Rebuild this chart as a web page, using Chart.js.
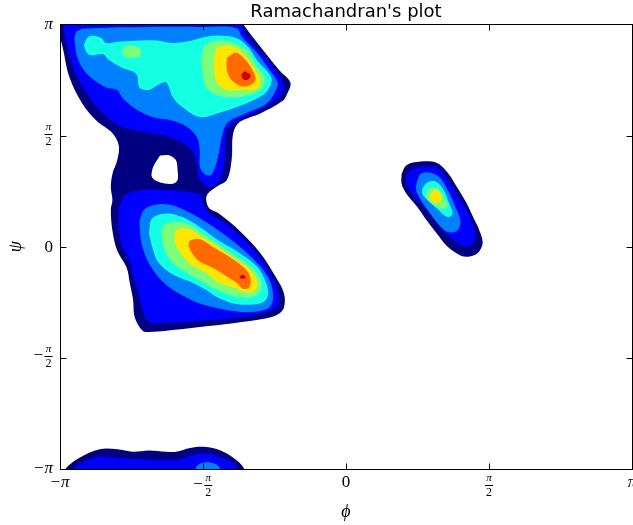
<!DOCTYPE html>
<html lang="en">

<head>
    <meta charset="UTF-8">
    <title>Ramachandran's plot</title>
    <style>
        body { margin: 0; background: #fff; }
        #wrap { width: 633px; height: 525px; }
    </style>
</head>

<body>
    <div id="wrap">
        <canvas id="grafico"></canvas>
    </div>

    <script src="https://cdn.jsdelivr.net/npm/chart.js"></script>
    <script>
        // contour outlines as [phi, psi] in degrees, outermost level first
        const betaL1 = [[-182, 184], [-66, 184], [-64, 179], [-52, 159], [-42, 143], [-35, 133], [-37, 124], [-40, 118], [-54, 108], [-67, 101], [-71, 92], [-72, 70], [-75, 54], [-81, 49], [-87, 43], [-88, 38], [-86, 31], [-80, 27], [-67, 13], [-54, -5], [-44, -25], [-39, -38], [-39, -49], [-42, -54], [-50, -58], [-71, -62], [-92, -65], [-113, -68], [-124, -69], [-128, -68], [-133, -57], [-134, -43], [-136, -30], [-138, -17], [-144, -3], [-147, 13], [-148, 30], [-147, 38], [-148, 48], [-147, 59], [-144, 70], [-143, 82], [-147, 92], [-157, 102], [-166, 116], [-174, 137], [-179, 165], [-182, 175]]
        const betaHole = [[-117, 74], [-111, 74], [-107, 70], [-106, 62], [-106, 54], [-109, 51], [-117, 52], [-122, 56], [-122, 62], [-120, 68]]
        const betaL2 = [[-178, 184], [-178, 179], [-176, 165], [-171, 143], [-163, 124], [-153, 108], [-143, 98], [-128, 93], [-111, 89], [-103, 84], [-97, 78], [-94, 68], [-93, 57], [-90, 51], [-86, 49], [-81, 51], [-78, 58], [-76, 76], [-75, 94], [-69, 102], [-57, 109], [-46, 117], [-40, 125], [-39, 131], [-43, 141], [-52, 155], [-63, 172], [-68, 184]]
        const betaL3 = [[-171, 169], [-169, 175], [-161, 177], [-124, 178], [-92, 178], [-69, 177], [-65, 169], [-56, 157], [-48, 143], [-43, 133], [-44, 127], [-50, 116], [-63, 108], [-74, 101], [-78, 90], [-80, 76], [-82, 66], [-85, 58], [-89, 59], [-92, 65], [-92, 78], [-94, 89], [-100, 97], [-109, 102], [-122, 105], [-134, 113], [-141, 121], [-144, 127], [-151, 129], [-163, 140], [-169, 153]]
        const betaL4 = [[-165, 163], [-163, 169], [-160, 171], [-154, 169], [-151, 165], [-143, 166], [-130, 167], [-119, 167], [-109, 165], [-97, 167], [-88, 170], [-80, 171], [-69, 169], [-61, 161], [-56, 151], [-47, 137], [-49, 127], [-56, 120], [-69, 113], [-81, 108], [-92, 105], [-103, 113], [-109, 121], [-113, 133], [-117, 132], [-124, 127], [-130, 129], [-132, 140], [-141, 145], [-149, 151], [-153, 156], [-160, 155], [-163, 157]]
        const betaL5 = [[-89, 163], [-81, 167], [-73, 166], [-62, 159], [-57, 148], [-51, 137], [-53, 128], [-61, 123], [-71, 121], [-81, 123], [-88, 129], [-90, 140], [-91, 153]]
        const betaL5b = [[-141, 158], [-139, 162], [-135, 163], [-130, 161], [-129, 158], [-130, 154], [-135, 153], [-139, 154]]
        const betaL6 = [[-81, 162], [-73, 163], [-65, 157], [-58, 145], [-54, 135], [-56, 128], [-65, 127], [-75, 127], [-81, 132], [-83, 143], [-83, 153]]
        const betaL7 = [[-75, 153], [-69, 157], [-63, 151], [-58, 141], [-57, 135], [-60, 131], [-66, 130], [-72, 135], [-75, 143]]
        const betaL8 = [[-66, 139], [-64, 142], [-62, 141], [-60, 139], [-61, 136], [-63, 135], [-65, 136]]

        const alphaL2 = [[-138, 43], [-130, 46], [-111, 46], [-97, 44], [-92, 42], [-90, 35], [-85, 26], [-78, 21], [-68, 11], [-57, -4], [-48, -21], [-43, -35], [-42, -46], [-46, -51], [-53, -54], [-71, -58], [-92, -60], [-114, -62], [-122, -62], [-126, -58], [-129, -47], [-131, -35], [-134, -23], [-136, -12], [-141, 1], [-143, 13], [-143, 30], [-141, 39]]
        const alphaL3 = [[-130, 21], [-127, 30], [-120, 34], [-111, 34], [-102, 30], [-92, 23], [-80, 13], [-64, -3], [-52, -19], [-47, -31], [-46, -43], [-49, -50], [-61, -53], [-76, -51], [-92, -46], [-102, -40], [-111, -33], [-119, -23], [-125, -11], [-129, 5]]
        const alphaL4 = [[-124, 11], [-122, 23], [-113, 27], [-103, 24], [-92, 16], [-80, 5], [-67, -5], [-56, -16], [-51, -27], [-49, -38], [-52, -45], [-61, -47], [-71, -46], [-81, -41], [-88, -35], [-97, -29], [-105, -25], [-113, -19], [-119, -11], [-122, 0]]
        const alphaL5 = [[-116, 8], [-115, 17], [-109, 20], [-100, 19], [-90, 11], [-78, 0], [-65, -11], [-56, -21], [-53, -33], [-56, -39], [-65, -41], [-75, -38], [-84, -33], [-92, -27], [-100, -21], [-109, -13], [-114, -3]]
        const alphaL6 = [[-108, 3], [-107, 13], [-100, 15], [-92, 9], [-82, 1], [-71, -9], [-62, -17], [-56, -27], [-57, -35], [-62, -37], [-71, -33], [-80, -29], [-88, -21], [-97, -15], [-103, -7]]
        const alphaL7 = [[-99, 1], [-98, 5], [-92, 6], [-84, 0], [-76, -6], [-68, -13], [-62, -20], [-60, -27], [-61, -33], [-65, -34], [-69, -29], [-75, -24], [-84, -17], [-92, -12], [-97, -5]]
        const alphaL8 = [[-66, -23], [-64, -23], [-63, -25], [-65, -26], [-67, -25]]

        // beta region wrapped round to psi = -pi
        const wrapL1 = [[-178, -185], [-176, -179], [-168, -171], [-155, -164], [-144, -164], [-134, -166], [-124, -165], [-113, -166], [-107, -166], [-98, -163], [-90, -162], [-81, -164], [-73, -169], [-67, -175], [-64, -180], [-63, -185]]
        const wrapL2 = [[-174, -185], [-172, -180], [-163, -173], [-155, -170], [-144, -171], [-130, -172], [-113, -173], [-105, -172], [-97, -169], [-88, -167], [-80, -170], [-71, -175], [-68, -180], [-67, -185]]
        const wrapL3 = [[-95, -185], [-94, -178], [-90, -175], [-85, -175], [-80, -178], [-79, -185]]

        // left-handed helix island
        const leftL1 = [[35, 59], [38, 66], [47, 69], [57, 68], [64, 60], [70, 48], [76, 35], [80, 24], [84, 13], [86, 3], [83, -5], [77, -8], [72, -7], [64, 0], [57, 11], [51, 21], [45, 32], [38, 43], [35, 51]]
        const leftL2 = [[38, 58], [42, 63], [51, 65], [59, 63], [65, 52], [72, 38], [78, 24], [81, 11], [80, 3], [75, 0], [69, 4], [62, 12], [55, 23], [47, 35], [40, 46], [38, 52]]
        const leftL3 = [[45, 54], [47, 59], [53, 60], [59, 56], [64, 46], [69, 32], [72, 21], [70, 13], [64, 12], [59, 17], [53, 27], [47, 38], [44, 47]]
        const leftL4 = [[48, 47], [51, 52], [56, 53], [61, 47], [65, 35], [67, 27], [64, 24], [58, 30], [51, 38], [48, 43]]
        const leftL5 = [[50, 43], [53, 48], [58, 47], [62, 39], [64, 32], [59, 31], [54, 35], [51, 39]]
        const leftL6 = [[53, 42], [56, 46], [60, 42], [60, 38], [57, 35], [53, 38]]

        const tickValues = [-180, -90, 0, 90, 180]
        const tickLabels = ['−π', '−π/2', '0', 'π/2', 'π']

        // level 0 is the empty pocket, 1..8 the jet bands
        const levelColours = ['#ffffff', '#000080', '#0000ff', '#0080ff', '#15ffe2', '#7bff7b', '#ffe600', '#ff6a00', '#d00000']

        const layers = [
            [betaL1, 1], [wrapL1, 1], [leftL1, 1], [betaHole, 0],
            [betaL2, 2], [alphaL2, 2], [wrapL2, 2], [leftL2, 2],
            [betaL3, 3], [alphaL3, 3], [wrapL3, 3], [leftL3, 3],
            [betaL4, 4], [alphaL4, 4], [leftL4, 4],
            [betaL5, 5], [betaL5b, 5], [alphaL5, 5], [leftL5, 5],
            [betaL6, 6], [alphaL6, 6], [leftL6, 6],
            [betaL7, 7], [alphaL7, 7],
            [betaL8, 8], [alphaL8, 8]
        ]

        let datasets = layers.map(([shape, level], i) => {
            let puntos = shape.map(([x, y]) => ({ x: x, y: y }))
            puntos.push({ x: shape[0][0], y: shape[0][1] })
            return {
                data: puntos,
                backgroundColor: levelColours[level],
                borderColor: 'rgba(0,0,0,0)',
                borderWidth: 0,
                fill: 'shape',
                tension: 0.35,
                pointRadius: 0,
                order: layers.length - i
            }
        })

        const fontBig = '17px "Liberation Serif"'
        const fontBigIt = 'italic 17px "Liberation Serif"'
        const fontSmall = '12px "Liberation Serif"'
        const fontSmallIt = 'italic 11px "Liberation Serif"'

        function fuente(texto, grande) {
            let it = texto.indexOf('π') >= 0
            if (grande) return it ? fontBigIt : fontBig
            return it ? fontSmallIt : fontSmall
        }

        // mathtext-like label: optional minus, then either a symbol or a stacked fraction
        function etiqueta(ctx, texto, px, py, lado) {
            let signo = ''
            let cuerpo = texto
            if (texto[0] === '−') { signo = '−'; cuerpo = texto.slice(1) }
            let partes = cuerpo.split('/')
            ctx.textBaseline = 'alphabetic'
            ctx.textAlign = 'left'
            ctx.font = fontBig
            let anchoSigno = signo ? ctx.measureText(signo).width + 1 : 0
            let ancho, alto = 0
            if (partes.length === 2) {
                ctx.font = fuente(partes[0], false)
                let w1 = ctx.measureText(partes[0]).width
                ctx.font = fuente(partes[1], false)
                let w2 = ctx.measureText(partes[1]).width
                ancho = Math.max(w1, w2) + 3
            } else {
                ctx.font = fuente(cuerpo, true)
                let m = ctx.measureText(cuerpo)
                ancho = m.width
                alto = m.actualBoundingBoxAscent
            }
            let total = anchoSigno + ancho
            let x0 = lado === 'x' ? px - total / 2 : px - total
            let barra = lado === 'x' ? py - 2.5 : py - 2
            let base
            if (partes.length === 2) base = barra + 4
            else base = lado === 'x' ? py : py + alto / 2
            if (signo) {
                ctx.font = fontBig
                ctx.fillText(signo, x0, base)
            }
            if (partes.length === 2) {
                let xc = x0 + anchoSigno + ancho / 2
                ctx.textAlign = 'center'
                ctx.font = fuente(partes[0], false)
                ctx.fillText(partes[0], xc, barra - 3.5)
                ctx.font = fuente(partes[1], false)
                ctx.fillText(partes[1], xc, barra + 11)
                ctx.fillRect(x0 + anchoSigno + 0.5, Math.round(barra), ancho - 1, 1)
            } else {
                ctx.font = fuente(cuerpo, true)
                ctx.fillText(cuerpo, x0 + anchoSigno, base)
            }
        }

        // box frame, inward ticks on all four sides and the pi tick labels
        const marco = {
            id: 'marco',
            afterDraw(chart) {
                const { ctx, chartArea: a, scales: { x, y } } = chart
                const L = Math.floor(a.left) + 0.5
                const R = Math.floor(a.right) + 0.5
                const T = Math.floor(a.top) + 0.5
                const B = Math.floor(a.bottom) + 0.5
                ctx.save()
                ctx.strokeStyle = '#000'
                ctx.lineWidth = 1
                ctx.strokeRect(L, T, R - L, B - T)
                ctx.beginPath()
                tickValues.forEach(v => {
                    let px = Math.round(x.getPixelForValue(v)) + 0.5
                    ctx.moveTo(px, B); ctx.lineTo(px, B - 6)
                    ctx.moveTo(px, T); ctx.lineTo(px, T + 6)
                    let py = Math.round(y.getPixelForValue(v)) + 0.5
                    ctx.moveTo(L, py); ctx.lineTo(L + 6, py)
                    ctx.moveTo(R, py); ctx.lineTo(R - 6, py)
                })
                ctx.stroke()
                ctx.fillStyle = '#000'
                tickValues.forEach((v, i) => {
                    etiqueta(ctx, tickLabels[i], x.getPixelForValue(v), a.bottom + 18, 'x')
                    etiqueta(ctx, tickLabels[i], a.left - 7, y.getPixelForValue(v), 'y')
                })
                ctx.restore()
            }
        }

        let canvaDom = document.querySelector('#grafico')
        new Chart(canvaDom, {
            type: 'line',
            data: { datasets: datasets },
            plugins: [marco],
            options: {
                responsive: true,
                maintainAspectRatio: false,
                animation: false,
                events: [],
                layout: { padding: { right: 1 } },
                plugins: {
                    legend: { display: false },
                    tooltip: { enabled: false },
                    title: {
                        display: true,
                        text: "Ramachandran's plot",
                        fullSize: false,
                        color: '#000',
                        font: { family: 'DejaVu Sans', size: 18, weight: 'normal' },
                        padding: { top: 1.2, bottom: 1.7 }
                    }
                },
                scales: {
                    x: {
                        type: 'linear',
                        min: -180,
                        max: 180,
                        ticks: { display: false, stepSize: 90 },
                        grid: { display: false, drawTicks: false },
                        border: { display: false },
                        title: {
                            display: true,
                            text: 'ϕ',
                            color: '#000',
                            font: { family: 'Liberation Serif', size: 18, style: 'italic' },
                            padding: { top: 0, bottom: 2 }
                        },
                        afterFit: (scale) => { scale.height = 56 }
                    },
                    y: {
                        type: 'linear',
                        min: -180,
                        max: 180,
                        ticks: { display: false, stepSize: 90 },
                        grid: { display: false, drawTicks: false },
                        border: { display: false },
                        title: {
                            display: true,
                            text: 'ψ',
                            color: '#000',
                            font: { family: 'Liberation Serif', size: 18, style: 'italic' },
                            padding: { top: 5, bottom: 0 }
                        },
                        afterFit: (scale) => { scale.width = 60 }
                    }
                }
            }
        })
    </script>
</body>

</html>
